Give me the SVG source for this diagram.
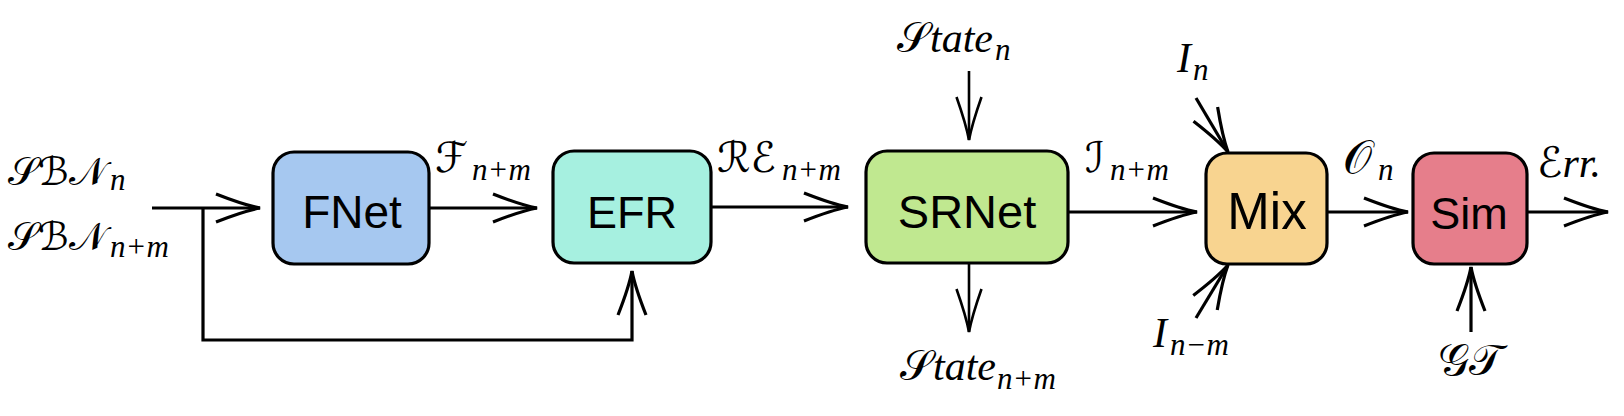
<svg xmlns="http://www.w3.org/2000/svg" width="1624" height="416" viewBox="0 0 1624 416">
<style>
.box{stroke:#000;stroke-width:3.2}
.lbl{font-family:"Liberation Sans",Arial,sans-serif;fill:#000;text-anchor:middle}
.m{font-family:"Liberation Serif","DejaVu Serif",serif;font-size:42px;fill:#000}
.cal{font-family:"DejaVu Serif","DejaVu Sans","Liberation Serif",serif;font-style:normal}
.it{font-style:italic}
.sub{font-family:"Liberation Serif",serif;font-style:italic;font-size:31px}
.c{fill:none;stroke:#000;stroke-width:3.2}
.t{fill:none;stroke:#000;stroke-width:2.6}
</style>
<defs>
<marker id="ah" markerUnits="userSpaceOnUse" orient="auto" overflow="visible" refX="0" refY="0" markerWidth="1" markerHeight="1">
<path d="M-44,-14 Q-16,-3 0,0 Q-16,3 -44,14" fill="none" stroke="#000" stroke-width="3.2"/>
</marker>
<marker id="aht" markerUnits="userSpaceOnUse" orient="auto" overflow="visible" refX="0" refY="0" markerWidth="1" markerHeight="1">
<path d="M-43,-12.5 Q-16,-3 0,0 Q-16,3 -43,12.5" fill="none" stroke="#000" stroke-width="2.6"/>
</marker>
</defs>

<g id="connectors">
<path class="c" d="M152,208 H260" marker-end="url(#ah)"/>
<path class="c" d="M203,208 V340 H632 V271" marker-end="url(#ah)"/>
<path class="c" d="M429,208 H537" marker-end="url(#ah)"/>
<path class="c" d="M711,207 H848" marker-end="url(#ah)"/>
<path class="t" d="M969,71 V140" marker-end="url(#aht)"/>
<path class="t" d="M969,263 V332" marker-end="url(#aht)"/>
<path class="c" d="M1068,212 H1197" marker-end="url(#ah)"/>
<path class="c" d="M1196,98 L1228,152" marker-end="url(#ah)"/>
<path class="c" d="M1196,318 L1228,265" marker-end="url(#ah)"/>
<path class="c" d="M1327,212 H1408" marker-end="url(#ah)"/>
<path class="c" d="M1527,212 H1608" marker-end="url(#ah)"/>
<path class="c" d="M1471,332 V267" marker-end="url(#ah)"/>
</g>

<g id="FNet">
<rect class="box" x="273" y="152" width="156" height="112" rx="21" fill="#a6c8f0"/>
<text class="lbl" x="352" y="228" font-size="46">FNet</text>
</g>
<g id="EFR">
<rect class="box" x="553" y="151" width="158" height="112" rx="21" fill="#a6f0e0"/>
<text class="lbl" x="632" y="228" font-size="45">EFR</text>
</g>
<g id="SRNet">
<rect class="box" x="866" y="151" width="202" height="112" rx="21" fill="#c0e890"/>
<text class="lbl" x="967" y="228" font-size="47">SRNet</text>
</g>
<g id="Mix">
<rect class="box" x="1206" y="153" width="121" height="111" rx="21" fill="#f8d490"/>
<text class="lbl" x="1267" y="229" font-size="51">Mix</text>
</g>
<g id="Sim">
<rect class="box" x="1413" y="153" width="114" height="111" rx="21" fill="#e67e8b"/>
<text class="lbl" x="1469" y="229" font-size="45">Sim</text>
</g>

<g id="labels">
<text class="m" x="8" y="185"><tspan class="cal" font-size="39">𝒮ℬ𝒩</tspan><tspan class="sub" x="110" y="190">n</tspan></text>
<text class="m" x="8" y="250"><tspan class="cal" font-size="39">𝒮ℬ𝒩</tspan><tspan class="sub" x="110" y="257">n+m</tspan></text>
<text class="m" x="435" y="172"><tspan class="cal">ℱ</tspan><tspan class="sub" x="472" y="180">n+m</tspan></text>
<text class="m" x="717" y="172"><tspan class="cal">ℛℰ</tspan><tspan class="sub" x="782" y="180">n+m</tspan></text>
<text class="m" x="897" y="52"><tspan class="cal">𝒮</tspan><tspan class="it">tate</tspan><tspan class="sub" x="995" y="60">n</tspan></text>
<text class="m" x="900" y="380"><tspan class="cal">𝒮</tspan><tspan class="it">tate</tspan><tspan class="sub" x="997" y="389">n+m</tspan></text>
<text class="m" x="1085" y="172"><tspan class="cal">ℐ</tspan><tspan class="sub" x="1110" y="180">n+m</tspan></text>
<text class="m" x="1177" y="72"><tspan class="it">I</tspan><tspan class="sub" x="1193" y="80">n</tspan></text>
<text class="m" x="1153" y="347"><tspan class="it">I</tspan><tspan class="sub" x="1170" y="355">n−m</tspan></text>
<text class="m" x="1343" y="173"><tspan class="cal" font-size="46">𝒪</tspan><tspan class="sub" x="1378" y="180">n</tspan></text>
<text class="m" x="1537" y="177"><tspan class="cal">ℰ</tspan><tspan class="it">rr.</tspan></text>
<text class="m" x="1438" y="375"><tspan class="cal" font-size="44">𝒢𝒯</tspan></text>
</g>
</svg>
